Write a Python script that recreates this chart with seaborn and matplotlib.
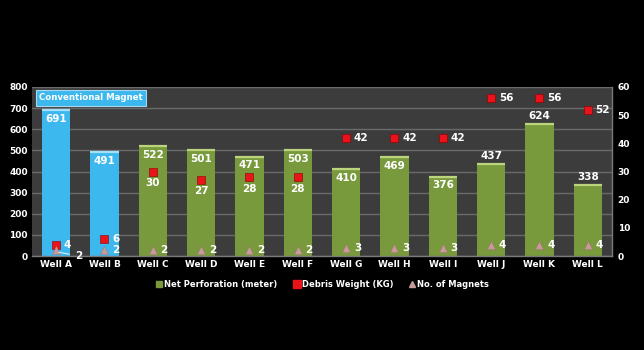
import matplotlib
matplotlib.use("Agg")
import matplotlib.pyplot as plt
import seaborn as sns
import numpy as np
import pandas as pd
from matplotlib.lines import Line2D

wells = ["Well A", "Well B", "Well C", "Well D", "Well E", "Well F",
         "Well G", "Well H", "Well I", "Well J", "Well K", "Well L"]
perforation = [691, 491, 522, 501, 471, 503, 410, 469, 376, 437, 624, 338]
debris = [4, 6, 30, 27, 28, 28, 42, 42, 42, 56, 56, 52]
magnets = [2, 2, 2, 2, 2, 2, 3, 3, 3, 4, 4, 4]
magnet_type = ["Conventional"] * 2 + ["New"] * 10

BLUE = "#3cb8ee"
GREEN = "#789a3c"
BG = "#3c3c3c"
GRID = "#6a6a6a"

sns.set_style("dark")
plt.rcParams['font.family'] = ['DejaVu Sans']

fig = plt.figure(figsize=(6.44, 3.5), dpi=100, facecolor="black")
ax = fig.add_axes([32/644, 94/350, 580/644, 169/350])
ax.set_facecolor(BG)

df = pd.DataFrame({"well": wells, "perf": perforation, "type": magnet_type})
sns.barplot(data=df, x="well", y="perf", hue="type",
            palette={"Conventional": BLUE, "New": GREEN}, saturation=1,
            width=0.58, dodge=False, legend=False, ax=ax,
            edgecolor="none", zorder=2)
# light top highlight on bars
for p in ax.patches:
    x0 = p.get_x(); w = p.get_width(); h = p.get_height()
    col = "#a5e0fa" if p.get_facecolor()[2] > 0.6 else "#bcd47e"
    ax.plot([x0, x0 + w], [h, h], color=col, lw=1.6, zorder=3,
            solid_capstyle="butt")

ax.set_ylim(0, 800)
ax.set_xlim(-0.5, 11.5)
ax.set_yticks(range(0, 801, 100))
ax.yaxis.grid(True, color=GRID, lw=1.0)
ax.xaxis.grid(False)
ax.set_axisbelow(True)
ax.set_xlabel(""); ax.set_ylabel("")
ax.tick_params(axis="both", colors="white", labelsize=6.5, length=0, pad=3)
for lab in ax.get_xticklabels() + ax.get_yticklabels():
    lab.set_fontweight("bold")
for s in ["top", "left"]:
    ax.spines[s].set_visible(False)
for s in ["bottom", "right"]:
    ax.spines[s].set_color("#7a7a7a")
    ax.spines[s].set_linewidth(1.0)

# bar value labels
for i, v in enumerate(perforation):
    if i >= 9:
        ax.text(i, v + 14, str(v), ha="center", va="bottom", color="white",
                fontsize=7.5, fontweight="bold", zorder=5)
    else:
        ax.text(i, v - 18, str(v), ha="center", va="top", color="white",
                fontsize=7.5, fontweight="bold", zorder=5)

ax2 = ax.twinx()
ax2.set_ylim(0, 60)
ax2.set_yticks(range(0, 61, 10))
ax2.grid(False)
ax2.tick_params(axis="y", colors="white", labelsize=6.5, length=0, pad=4)
for lab in ax2.get_yticklabels():
    lab.set_fontweight("bold")
for s in ax2.spines.values():
    s.set_visible(False)

xs = np.arange(len(wells))
pts = pd.DataFrame({"x": xs, "debris": debris, "magnets": magnets})
sns.scatterplot(data=pts, x="x", y="debris", marker="s", s=26,
                color="#e8141a", edgecolor="#8a0000", linewidth=0.4,
                ax=ax2, zorder=6, legend=False)
sns.scatterplot(data=pts, x="x", y="magnets", marker="^", s=34,
                color="#c79a9c", edgecolor="#a07070", linewidth=0.3,
                ax=ax2, zorder=6, legend=False)
ax2.set_xlim(-0.5, 11.5)
ax2.set_xlabel(""); ax2.set_ylabel("")

for i, d in enumerate(debris):
    if 2 <= i <= 5:
        ax2.text(i, d - 2.3, str(d), ha="center", va="top", color="white",
                 fontsize=7.5, fontweight="bold", zorder=7)
    else:
        ax2.text(i + 0.16, d, str(d), ha="left", va="center", color="white",
                 fontsize=7.5, fontweight="bold", zorder=7)
for i, m in enumerate(magnets):
    if i == 0:
        ax2.annotate(str(m), xy=(i, m - 0.5), xytext=(i + 0.4, m - 2.0),
                     color="white", fontsize=7.5, fontweight="bold",
                     ha="left", va="center", zorder=7,
                     arrowprops=dict(arrowstyle="-", color="white", lw=0.6))
    else:
        ax2.text(i + 0.16, m, str(m), ha="left", va="center", color="white",
                 fontsize=7.5, fontweight="bold", zorder=7)

ax.text(0.012, 0.962, "Conventional Magnet", transform=ax.transAxes,
        ha="left", va="top", color="white", fontsize=6.2, fontweight="bold",
        zorder=8,
        bbox=dict(boxstyle="square,pad=0.4", facecolor=BLUE,
                  edgecolor="#a8d8f0", linewidth=0.8))

handles = [
    Line2D([], [], marker="s", linestyle="none", color=GREEN,
           markersize=4, label="Net Perforation (meter)"),
    Line2D([], [], marker="s", linestyle="none", color="#e8141a",
           markersize=6, label="Debris Weight (KG)"),
    Line2D([], [], marker="^", linestyle="none", color="#c79a9c",
           markersize=5, label="No. of Magnets"),
]
leg = fig.legend(handles=handles, loc="center", bbox_to_anchor=(0.5, 0.188),
                 ncol=3, frameon=False, fontsize=6, handletextpad=0.1,
                 columnspacing=1.8, handlelength=1.0)
for t in leg.get_texts():
    t.set_color("white")
    t.set_fontweight("bold")

fig.savefig("out.png", dpi=100, facecolor="black")
